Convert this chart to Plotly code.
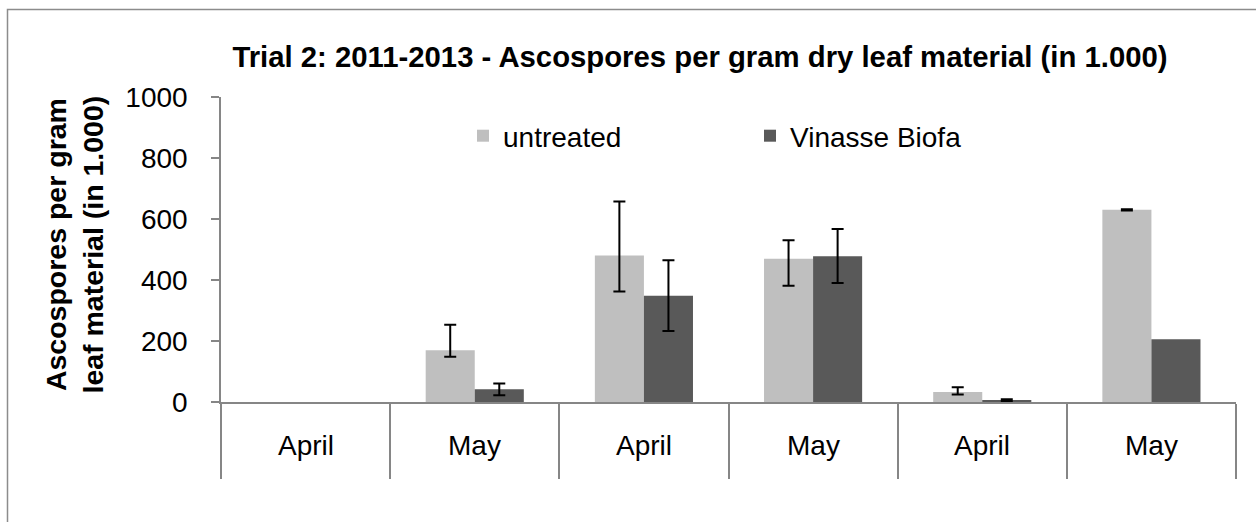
import plotly.graph_objects as go

# ---- data ----
months = ["April", "May", "April", "May", "April", "May"]
untreated = [0, 170, 480, 470, 33, 630]
untreated_err_plus = [None, 83, 177, 60, 15, 2]
untreated_err_minus = [None, 22, 118, 89, 8, 2]
vinasse = [0, 42, 348, 478, 6, 206]
vinasse_err_plus = [None, 19, 117, 89, 3, None]
vinasse_err_minus = [None, 20, 115, 88, 3, None]
series_names = ["untreated", "Vinasse Biofa"]
y_ticks = [0, 200, 400, 600, 800, 1000]

positions = list(range(len(months)))
boundaries = [p - 0.5 for p in positions] + [positions[-1] + 0.5]

W, H = 1256, 522
PL, PR, PT, PB = 221, 1236, 97, 402
FONT = "Liberation Sans, Arial, sans-serif"
GRAY = "#868686"


def px_x(p):
    return (p - PL) / (PR - PL)


def px_y(p):
    return (PB - p) / (PB - PT)


def err(vals):
    # missing error values -> no error bar drawn
    return ["NaN" if v is None else v for v in vals]


err_style = dict(type="data", symmetric=False, color="black", thickness=2, width=6)

fig = go.Figure()
fig.add_trace(go.Bar(
    x=positions, y=untreated, name=series_names[0],
    marker=dict(color="#bfbfbf", line=dict(width=0)),
    error_y=dict(array=err(untreated_err_plus), arrayminus=err(untreated_err_minus), **err_style),
))
fig.add_trace(go.Bar(
    x=positions, y=vinasse, name=series_names[1],
    marker=dict(color="#595959", line=dict(width=0)),
    error_y=dict(array=err(vinasse_err_plus), arrayminus=err(vinasse_err_minus), **err_style),
))

annotations = []
for p, m in zip(positions, months):
    annotations.append(dict(
        x=p, y=px_y(445), xref="x", yref="paper", text=m, showarrow=False,
        xanchor="center", yanchor="middle", font=dict(family=FONT, size=28, color="black"),
    ))
annotations.append(dict(
    x=px_x(73.5), y=px_y(245), xref="paper", yref="paper",
    text="<b>Ascospores per gram<br>leaf material (in 1.000)</b>", textangle=-90,
    showarrow=False, xanchor="center", yanchor="middle",
    font=dict(family=FONT, size=28.5, color="black"),
))

fig.update_layout(
    width=W, height=H,
    margin=dict(l=PL, r=W - PR, t=PT, b=H - PB, pad=0),
    paper_bgcolor="white", plot_bgcolor="white",
    barmode="group", bargap=0.42, bargroupgap=0,
    title=dict(
        text="<b>Trial 2: 2011-2013 - Ascospores per gram dry leaf material (in 1.000)</b>",
        x=px_x(700), xref="paper", xanchor="center",
        y=1 - 57 / H, yref="container", yanchor="middle",
        font=dict(family=FONT, size=29.3, color="black"),
    ),
    legend=dict(
        orientation="h", x=px_x(463), y=px_y(136), xanchor="left", yanchor="middle",
        xref="paper", yref="paper",
        font=dict(family=FONT, size=28, color="black"),
        entrywidth=242, entrywidthmode="pixels", bgcolor="rgba(0,0,0,0)",
        itemclick=False,
    ),
    xaxis=dict(
        range=[boundaries[0], boundaries[-1]], tickmode="array", tickvals=boundaries,
        showticklabels=False, ticks="outside", ticklen=75, tickcolor=GRAY, tickwidth=1.5,
        showline=True, linecolor=GRAY, linewidth=1.5, showgrid=False, zeroline=False,
    ),
    yaxis=dict(
        range=[0, 1000], tickmode="array", tickvals=y_ticks,
        ticks="outside", ticklen=8, tickcolor=GRAY, tickwidth=1.5,
        showline=True, linecolor=GRAY, linewidth=1.5, showgrid=False, zeroline=False,
        tickfont=dict(family=FONT, size=28, color="black"), ticklabelstandoff=18,
    ),
    annotations=annotations,
    shapes=[dict(
        type="rect", xref="paper", yref="paper",
        x0=px_x(7.5), x1=px_x(W + 20), y0=px_y(H + 20), y1=px_y(9.5),
        line=dict(color="#8c8c8c", width=1.5), fillcolor="rgba(0,0,0,0)", layer="below",
    )],
)

fig.write_html(
    "out.html",
    config={"displayModeBar": False},
    post_script="document.body.style.margin='0';document.body.style.overflow='hidden';",
)
